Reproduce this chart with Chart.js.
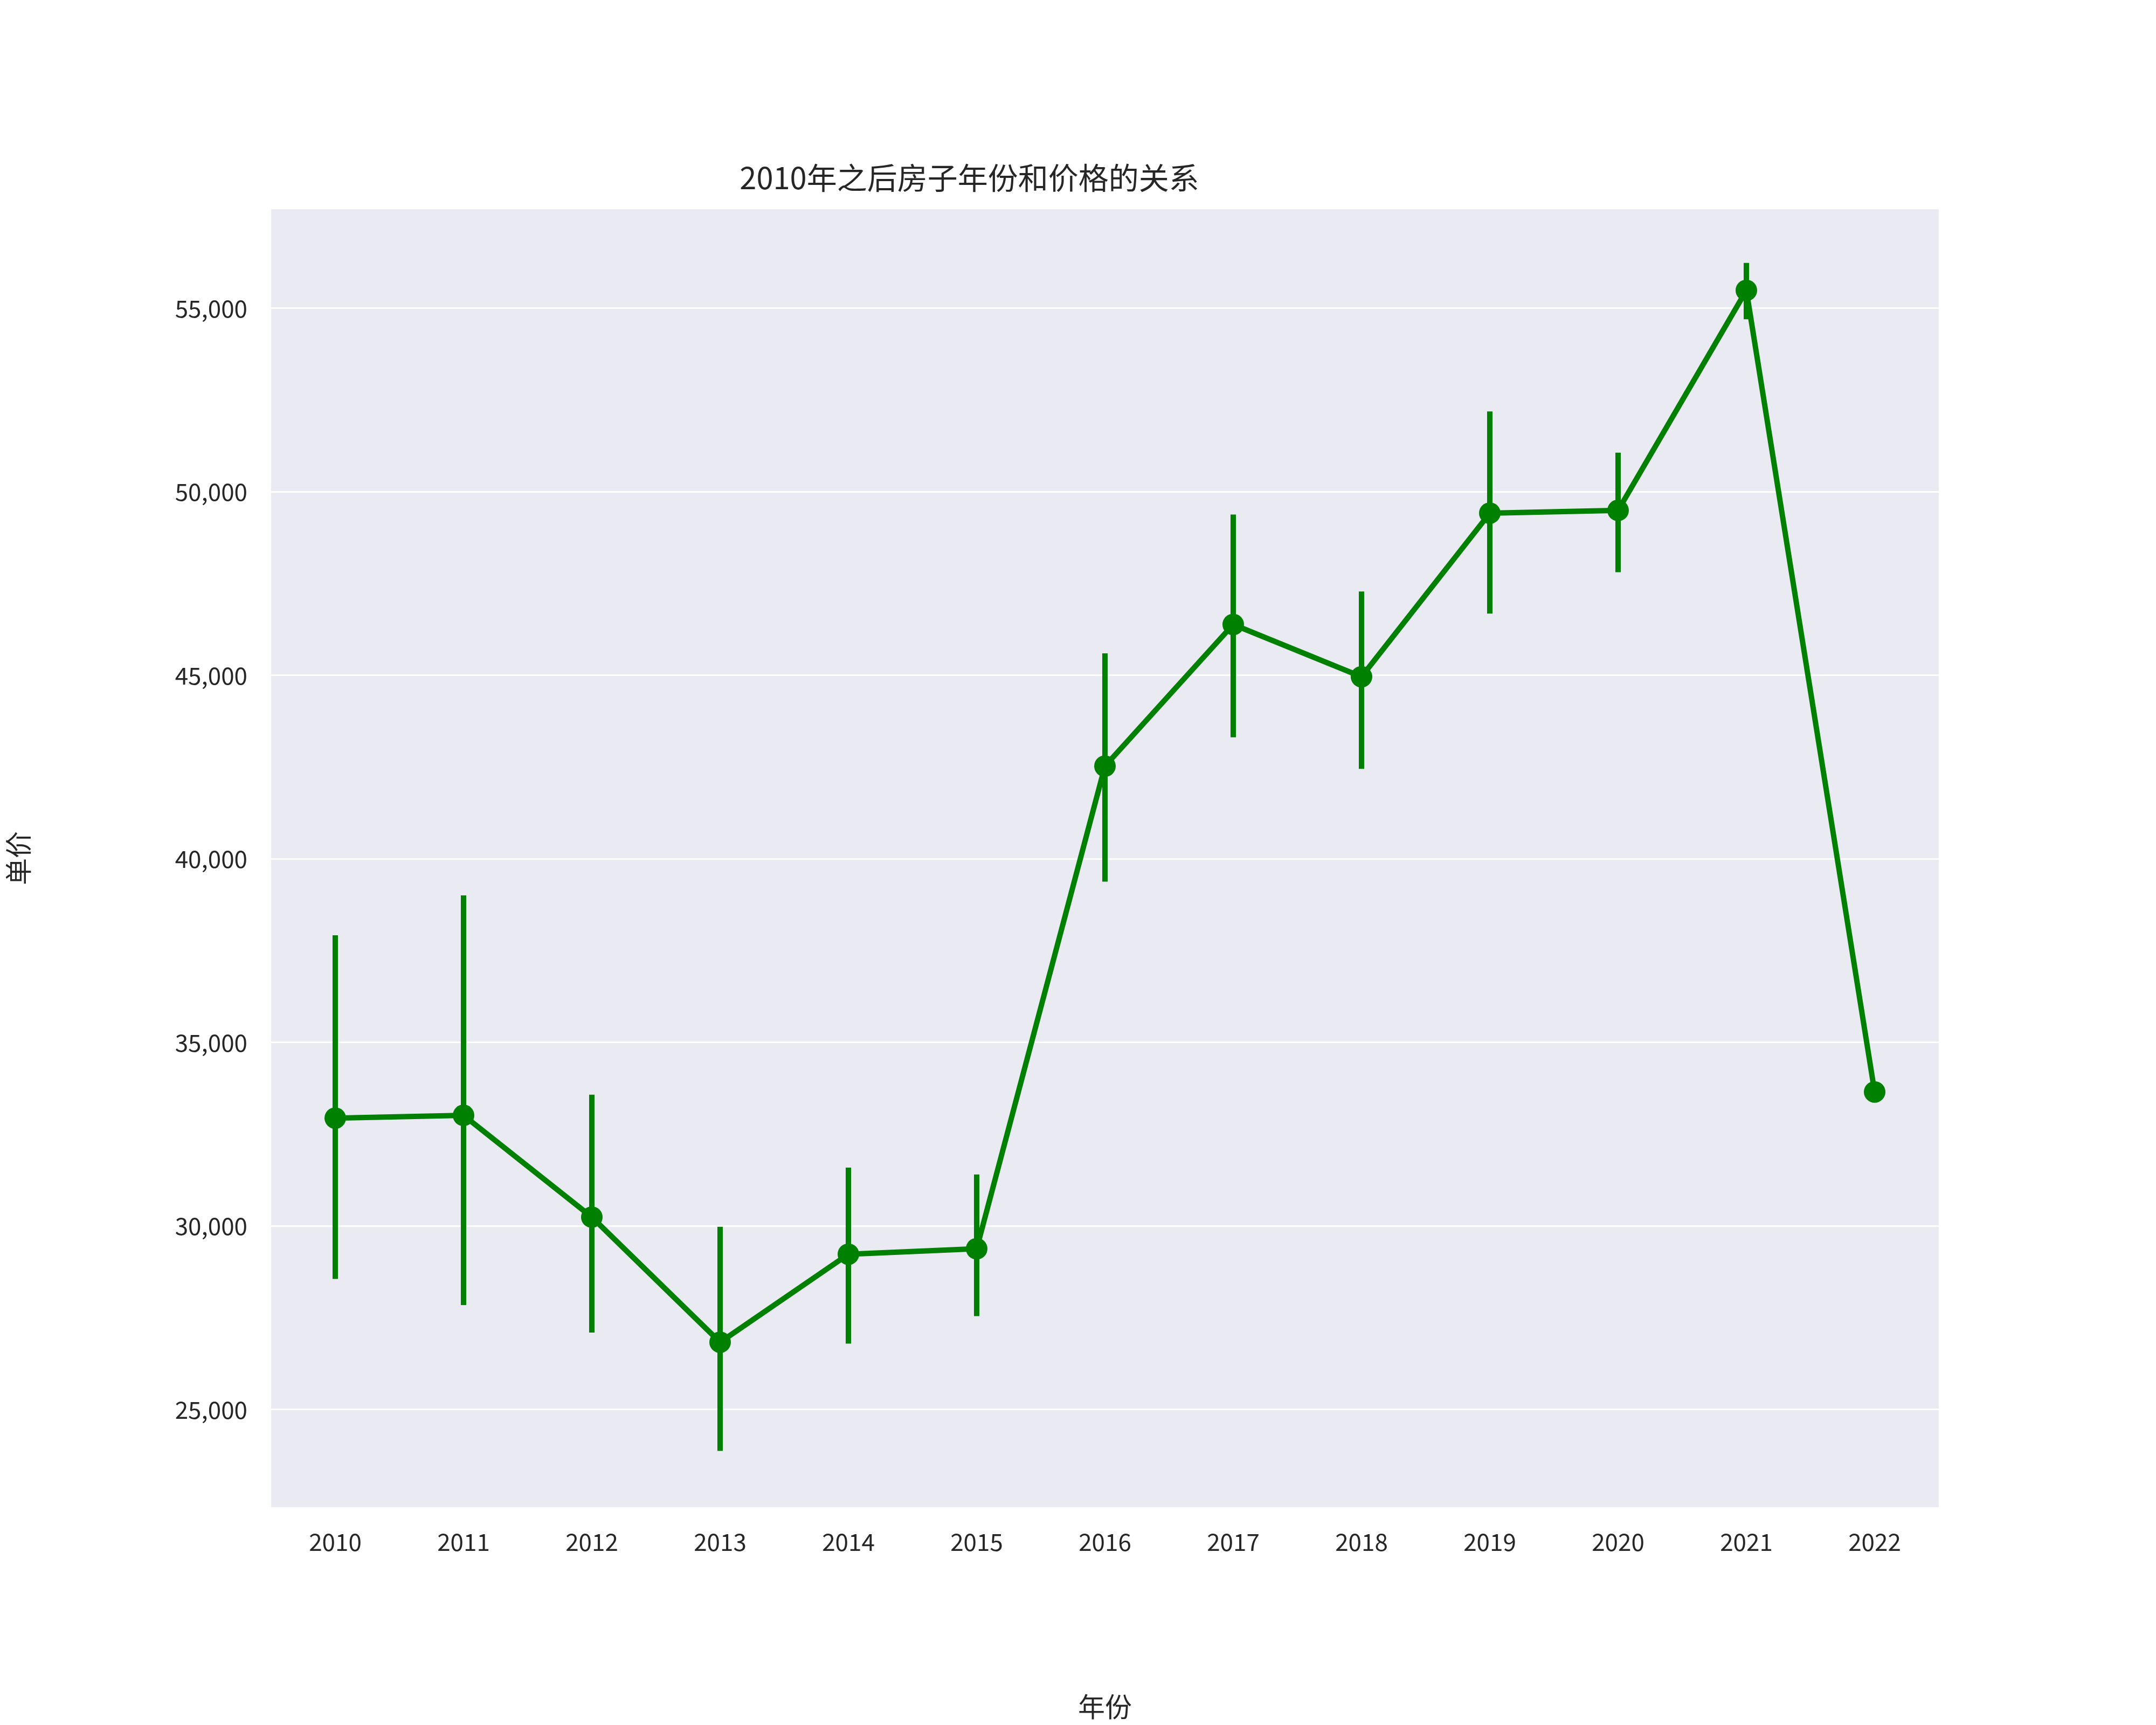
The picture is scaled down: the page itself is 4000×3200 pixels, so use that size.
<!DOCTYPE html>
<html><head><meta charset="utf-8">
<script src="https://cdn.jsdelivr.net/npm/chart.js@4/dist/chart.umd.min.js"></script>
<style>html,body{margin:0;background:#fff}</style></head>
<body><canvas id="c" width="4000" height="3200"></canvas>
<script>
const years = ['2010','2011','2012','2013','2014','2015','2016','2017','2018','2019','2020','2021','2022'];
const meanPrice = [32940,33015,30243,26835,29232,29382,42528,46386,44963,49419,49494,55487,33652];
const errLow = [28558,27846,27097,23876,26798,27547,39382,43315,42453,46685,47809,54700,null];
const errHigh = [37921,39007,33577,29980,31592,31404,45599,49382,47285,52191,51067,56236,null];
const yTicks = [25000,30000,35000,40000,45000,50000,55000];
const FONT = '"Noto Sans CJK SC", "DejaVu Sans", sans-serif';
const GREEN = '#008000';

const bgPlugin = {id:'bg', beforeDraw(ch){const a=ch.chartArea,c=ch.ctx;c.save();c.fillStyle='#fff';c.fillRect(0,0,ch.width,ch.height);c.fillStyle='#EAEAF2';c.fillRect(a.left,a.top,a.right-a.left,a.bottom-a.top);c.restore();}};
const errPlugin = {id:'err', beforeDatasetsDraw(ch){const c=ch.ctx,x=ch.scales.x,y=ch.scales.y;c.save();c.strokeStyle=GREEN;c.lineWidth=10;c.lineCap='butt';
 years.forEach((yr,i)=>{if(errLow[i]==null)return;const px=x.getPixelForValue(i);c.beginPath();c.moveTo(px,y.getPixelForValue(errLow[i]));c.lineTo(px,y.getPixelForValue(errHigh[i]));c.stroke();});c.restore();}};

new Chart(document.getElementById('c'),{
 type:'line',
 data:{labels:years,datasets:[{data:meanPrice,borderColor:GREEN,backgroundColor:GREEN,borderWidth:10,pointRadius:20,pointHoverRadius:20,pointBorderWidth:0,tension:0}]},
 options:{responsive:false,animation:false,devicePixelRatio:1,
  layout:{padding:{left:0,right:403,top:0,bottom:0}},
  plugins:{legend:{display:false},tooltip:{enabled:false},
   title:{display:true,text:'2010年之后房子年份和价格的关系',color:'#262626',font:{family:FONT,size:56,weight:'normal'},padding:{top:296,bottom:25}}},
  scales:{
   x:{offset:true,grid:{display:false},border:{display:false},
      ticks:{color:'#262626',font:{family:FONT,size:44},padding:30},
      title:{display:true,text:'年份',color:'#262626',font:{family:FONT,size:50}},
      afterFit(s){s.height=404;}},
   y:{min:22341,max:57697,grid:{color:'#ffffff',lineWidth:3,drawTicks:false},border:{display:false},
      afterBuildTicks(s){s.ticks=yTicks.map(v=>({value:v}));},
      ticks:{color:'#262626',font:{family:FONT,size:44},padding:44},
      title:{display:true,text:'单价',color:'#262626',font:{family:FONT,size:50},padding:{bottom:30}},
      afterFit(s){s.width=503;}}
  }},
 plugins:[bgPlugin,errPlugin]
});
</script></body></html>
